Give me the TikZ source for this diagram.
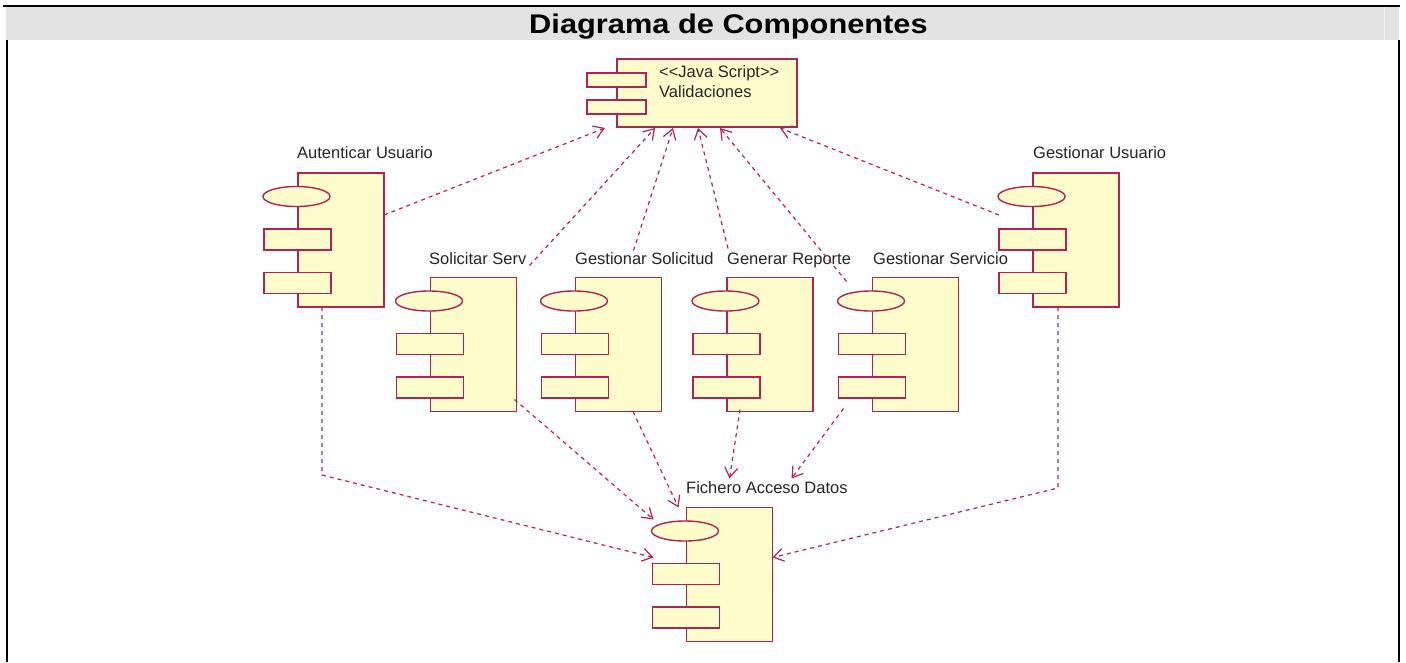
\documentclass[tikz,border=0pt]{standalone}
\usepackage{fontspec}
\setmainfont{Liberation Sans}
\usetikzlibrary{arrows.meta,calc,shapes.geometric}

\definecolor{umlline}{RGB}{176,36,84}
\definecolor{umlfill}{RGB}{255,252,204}
\definecolor{bandgray}{RGB}{227,227,227}
\definecolor{panelgray}{RGB}{254,254,254}

\tikzset{
  compbox/.style={rectangle, draw=umlline, fill=umlfill, line width=1.4pt,
    inner sep=0pt, outer sep=0pt, minimum width=86pt, minimum height=134pt},
  compell/.style={ellipse, draw=umlline, fill=umlfill, line width=1.4pt,
    inner sep=0pt, outer sep=0pt, minimum width=67pt, minimum height=20pt},
  comprect/.style={rectangle, draw=umlline, fill=umlfill, line width=1.4pt,
    inner sep=0pt, outer sep=0pt, minimum width=67pt, minimum height=21pt},
  smallrect/.style={rectangle, draw=umlline, fill=umlfill, line width=1.4pt,
    inner sep=0pt, outer sep=0pt, minimum width=59pt, minimum height=14pt},
  lbl/.style={anchor=base west, inner sep=0pt, text=black!85,
    font=\fontsize{16.5}{19}\selectfont},
  dep/.style={draw=umlline, line width=1.2pt, dash pattern=on 4pt off 4pt,
    -{Straight Barb[length=10pt,width=13pt,line width=1.2pt]}},
}

% UML component: body box plus the oval and two side tabs
\newcommand\umlcomponent[3]{%
  \node[compbox] (#1) at (#2,#3) {};
  \node[compell] (#1-e) at ($(#1.north west)+(-1.5,23.5)$) {};
  \node[comprect] (#1-r1) at ($(#1.north west)+(-0.5,66.5)$) {};
  \node[comprect] (#1-r2) at ($(#1.north west)+(-0.5,110)$) {};
}

\begin{document}
\begin{tikzpicture}[x=1pt,y=-1pt]
\useasboundingbox (0,0) rectangle (1406,662);

% page frame and title band
\fill[white] (0,0) rectangle (1406,662);
\fill[bandgray] (6,6) rectangle (1399,40);
\draw[white!55!bandgray, line width=1pt] (1384,7) -- (1384,40);
\draw[line width=2pt] (3,5.5) -- (1399.5,5.5);
\draw[line width=2pt] (6.7,40) -- (6.7,662);
\draw[line width=2pt] (1398.7,40) -- (1398.7,662);
\node[anchor=base, inner sep=0pt, font=\bfseries\fontsize{27}{30}\selectfont]
  (title) at (728.5,33.5) {\scalebox{1.14}[1]{Diagrama de Componentes}};

% diagram panel
\fill[panelgray] (248,44) rectangle (1177,648);

% Validaciones (JavaScript)
\node[compbox, minimum width=180pt, minimum height=68pt] (val) at (707,93) {};
\node[smallrect] (val-r1) at ($(val.north west)+(-0.5,21)$) {};
\node[smallrect] (val-r2) at ($(val.north west)+(-0.5,48)$) {};
\node[lbl] (val-st) at (659,77.5) {<{}<Java Script>{}>};
\node[lbl] (val-l) at (659,97.5) {Validaciones};

% components
\umlcomponent{aut}{341}{240}
\umlcomponent{sol}{473.5}{344.5}
\umlcomponent{gsol}{618.5}{344.5}
\umlcomponent{rep}{770}{344.5}
\umlcomponent{gser}{915.5}{344.5}
\umlcomponent{gusr}{1076}{240}
\umlcomponent{fic}{729.5}{574.5}

\node[lbl] (aut-l) at (297,158.5) {Autenticar Usuario};
\node[lbl] (sol-l) at (429,264.5) {Solicitar Serv};
\node[lbl] (gsol-l) at (575,264.5) {Gestionar Solicitud};
\node[lbl] (rep-l) at (727,264.5) {Generar Reporte};
\node[lbl] (gser-l) at (873,264.5) {Gestionar Servicio};
\node[lbl] (gusr-l) at (1033,158.5) {Gestionar Usuario};
\node[lbl] (fic-l) at (686,493) {Fichero Acceso Datos};

% dependencies on Validaciones
\draw[dep] ($(aut.east)+(0,-25)$) -- ($(val.south west)+(-12,1)$);
\draw[dep] ($(sol.north east)+(13,-12)$) -- ($(val.south west)+(38,1)$);
\draw[dep] ($(gsol.north west)+(58,-27)$) -- ($(val.south west)+(56,1)$);
\draw[dep] ($(rep.north west)+(1,-29)$) -- ($(val.south west)+(81,1)$);
\draw[dep] ($(gser.north west)+(-26,4)$) -- ($(val.south west)+(103,1)$);
\draw[dep] ($(gusr.north west)+(-34,42)$) -- ($(val.south east)+(-17,1)$);

% dependencies on Fichero Acceso Datos
\draw[dep] ($(aut.south)+(-19,0)$) -- ++(0,168) -- ($(fic.north west)+(-33,50)$);
\draw[dep] ($(sol.south east)+(-2,-12)$) -- ($(fic.north west)+(-33,12)$);
\draw[dep] ($(gsol.south)+(14.5,0)$) -- ($(fic.north west)+(-8,0)$);
\draw[dep] ($(rep.south west)+(13,-2)$) -- ($(fic.north west)+(43,-29)$);
\draw[dep] ($(gser.south west)+(-29,-3)$) -- ($(fic.north west)+(105,-29)$);
\draw[dep] ($(gusr.south)+(-18,0)$) -- ++(0,181) -- ($(fic.north east)+(0,50)$);
\end{tikzpicture}
\end{document}
